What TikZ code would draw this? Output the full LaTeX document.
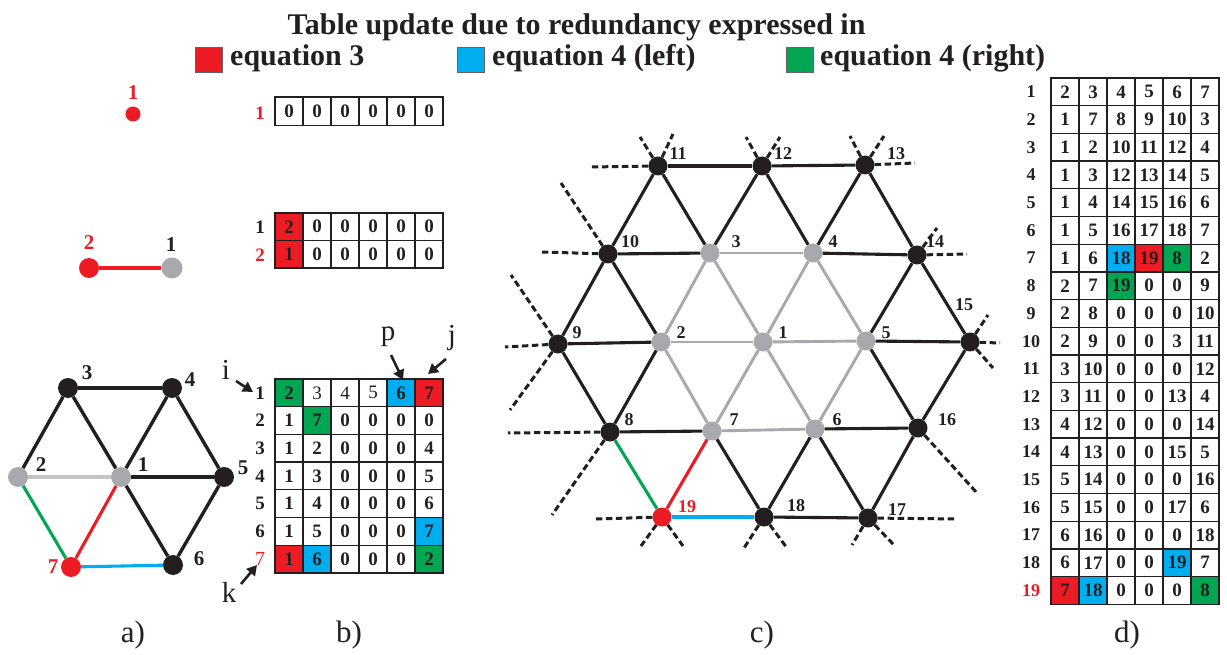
\documentclass[tikz,border=0pt]{standalone}
\usepackage{fontspec}
\setmainfont{Liberation Serif}
\usetikzlibrary{arrows.meta}
\definecolor{eqR}{HTML}{ED1C24}
\definecolor{eqB}{HTML}{00AEEF}
\definecolor{eqG}{HTML}{00A651}
\definecolor{ndG}{HTML}{A7A9AC}
\definecolor{edG}{HTML}{C3C4C6}
\definecolor{ink}{HTML}{231F20}
\colorlet{cW}{white}
\colorlet{cR}{eqR}
\colorlet{cB}{eqB}
\colorlet{cG}{eqG}
\newcommand{\celltable}[5]{%
  \foreach \row [count=\i] in {#5} {%
    \foreach \v/\c [count=\j] in \row {%
      \node[cell, fill=\c, minimum height=#4pt] (#1-\i-\j) at ({#2+28*(\j-0.5)},{#3+#4*(\i-0.5)}) {\v};
    }
  }
}
\begin{document}
\begin{tikzpicture}[x=1pt,y=-1pt,
  vtx/.style={circle, inner sep=0pt, minimum size=19pt, fill=ink},
  gvtx/.style={vtx, fill=ndG},
  rvtx/.style={vtx, fill=eqR},
  edge/.style={line width=3.1pt, draw=ink},
  gedge/.style={line width=2.9pt, draw=ndG},
  stub/.style={line width=3pt, draw=ink, dash pattern=on 6.5pt off 3.5pt},
  lbl/.style={font=\fontsize{18}{18}\selectfont\bfseries, text=ink, inner sep=0pt},
  albl/.style={font=\fontsize{21}{21}\selectfont\bfseries, text=ink, inner sep=0pt},
  rlbl/.style={font=\fontsize{19}{19}\selectfont\bfseries, text=ink, inner sep=0pt},
  dlbl/.style={font=\fontsize{18}{18}\selectfont\bfseries, text=ink, inner sep=0pt},
  cell/.style={draw=ink, line width=1.3pt, minimum width=28pt, inner sep=0pt,
    font=\fontsize{19}{19}\selectfont\bfseries, text=ink},
  legsq/.style={draw=ink!70, line width=0.6pt, minimum width=27pt, minimum height=25pt, inner sep=0pt},
  legtx/.style={font=\fontsize{30}{30}\selectfont\bfseries, text=ink, inner sep=0pt, anchor=base west},
  letter/.style={font=\fontsize{29}{29}\selectfont, text=ink, inner sep=0pt},
  captxt/.style={font=\fontsize{31}{31}\selectfont, text=ink, inner sep=0pt},
  arr/.style={line width=2.6pt, draw=ink, -{Triangle[length=10pt,width=11pt]}}
]
\useasboundingbox (0,0) rectangle (1227,655);

% ---------- legend ----------
\node[font=\fontsize{30}{30}\selectfont\bfseries, text=ink, inner sep=0pt, anchor=base] (title) at (576.5,35) {Table update due to redundancy expressed in};
\node[legsq, fill=eqR] (lr) at (209,59.5) {};
\node[legtx] (lrt) at (230,66) {equation 3};
\node[legsq, fill=eqB] (lb) at (471,59.5) {};
\node[legtx] (lbt) at (492,66) {equation 4 (left)};
\node[legsq, fill=eqG] (lg) at (800,59.5) {};
\node[legtx] (lgt) at (820,66) {equation 4 (right)};

% ---------- single node ----------
\node[rvtx, minimum size=15pt] (s1) at (133,114) {};
\node[albl, text=eqR] (s1l) at (133,93) {1};

% ---------- pair ----------
\node[rvtx, minimum size=20pt] (p2) at (89,268) {};
\node[gvtx, minimum size=21pt] (p1) at (172,268) {};
\draw[edge, draw=eqR] (p2) -- (p1);
\node[albl, text=eqR] (p2l) at (89,243) {2};
\node[albl] (p1l) at (171,245) {1};

% ---------- part a ----------
\foreach \n/\x/\y/\s in {3/68/388/vtx, 4/172/388/vtx, 2/18/477/gvtx, 1/121/477/gvtx, 5/224/477/vtx, 7/71/567/rvtx, 6/173/565/vtx}
  \node[\s, minimum size=20pt] (a\n) at (\x,\y) {};
\foreach \a/\b in {3/4,3/2,3/1,4/1,4/5,1/5,5/6,1/6}
  \draw[edge, line width=3.4pt] (a\a) -- (a\b);
\draw[edge, draw=edG] (a2) -- (a1);
\draw[edge, draw=eqG] (a2) -- (a7);
\draw[edge, draw=eqR] (a1) -- (a7);
\draw[edge, draw=eqB] (a7) -- (a6);
\foreach \n/\x/\y in {3/87/373, 4/190/380, 2/41/465, 1/143/465, 5/243/468, 6/199/559}
  \node[albl] (al\n) at (\x,\y) {\n};
\node[albl, text=eqR] (al7) at (53,567) {7};

% ---------- part b tables ----------
\celltable{t1}{275}{97}{28.5}{{0/cW,0/cW,0/cW,0/cW,0/cW,0/cW}}
\node[rlbl, text=eqR] (t1r1) at (260,113) {1};

\celltable{t2}{275}{213}{27.5}{{2/cR,0/cW,0/cW,0/cW,0/cW,0/cW},{1/cR,0/cW,0/cW,0/cW,0/cW,0/cW}}
\node[rlbl] (t2r1) at (260,227) {1};
\node[rlbl, text=eqR] (t2r2) at (260,255) {2};

\celltable{t3}{275}{379}{27.7}{%
 {2/cG,{\mdseries 3}/cW,{\mdseries 4}/cW,{\mdseries 5}/cW,6/cB,7/cR},
 {1/cW,7/cG,0/cW,0/cW,0/cW,0/cW},
 {1/cW,2/cW,0/cW,0/cW,0/cW,4/cW},
 {1/cW,3/cW,0/cW,0/cW,0/cW,5/cW},
 {1/cW,4/cW,0/cW,0/cW,0/cW,6/cW},
 {1/cW,5/cW,0/cW,0/cW,0/cW,7/cB},
 {1/cR,6/cB,0/cW,0/cW,0/cW,2/cG}}
\foreach \i in {1,...,6}
  \node[rlbl] (t3r\i) at (260,{379+27.7*(\i-0.5)}) {\i};
\node[rlbl, text=eqR, font=\fontsize{20}{20}\selectfont] (t3r7) at (260,{379+27.7*6.5}) {7};

% index letters and arrows
\node[letter] (li) at (226,370) {i};
\node[letter] (lp) at (388,337) {p};
\node[letter] (lj) at (452,338) {j};
\node[letter] (lk) at (229,592) {k};
\coordinate (ai0) at (236,381); \coordinate (ai1) at (253,392);
\coordinate (ap0) at (391,355); \coordinate (ap1) at (403,380);
\coordinate (aj0) at (446,359); \coordinate (aj1) at (428,374);
\coordinate (ak0) at (241,584); \coordinate (ak1) at (257,565);
\draw[arr] (ai0) -- (ai1);
\draw[arr] (ap0) -- (ap1);
\draw[arr] (aj0) -- (aj1);
\draw[arr] (ak0) -- (ak1);

% ---------- part c ----------
\foreach \n/\x/\y/\s in {11/658/166/vtx, 12/762/166/vtx, 13/865/165/vtx,
  10/608/254/vtx, 3/710/253/gvtx, 4/813/253/gvtx, 14/917/255/vtx,
  9/558/344/vtx, 2/661/342/gvtx, 1/763/342/gvtx, 5/866/341/gvtx, 15/970/342/vtx,
  8/610/432/vtx, 7/712/431/gvtx, 6/815/429/gvtx, 16/918/428/vtx,
  19/662/517/rvtx, 18/764/517/vtx, 17/868/518/vtx}
  \node[\s] (c\n) at (\x,\y) {};
\foreach \a/\b in {11/12,12/13,10/11,10/3,3/11,3/12,4/12,4/13,13/14,4/14,10/9,10/2,9/2,9/8,2/8,8/7,7/18,6/18,6/17,6/16,5/16,5/14,5/15,14/15,15/16,16/17,18/17}
  \draw[edge] (c\a) -- (c\b);
\foreach \a/\b in {1/2,1/3,1/4,1/5,1/6,1/7,2/3,3/4,4/5,5/6,6/7,7/2}
  \draw[gedge] (c\a) -- (c\b);
\draw[edge, draw=eqR] (c7) -- (c19);
\draw[edge, draw=eqG] (c8) -- (c19);
\draw[edge, draw=eqB] (c19) -- (c18);
\foreach \n/\d/\x/\y in {11/L/589/167, 11/UL/640/137, 11/UR/673/134,
  12/UL/746/137, 12/UR/780/137,
  13/UL/850/136, 13/UR/884/136, 13/R/915/163,
  10/L/542/252, 10/UL/561/183,
  14/R/967/254, 14/UR/937/228,
  9/L/505/347, 9/UL/511/275, 9/DL/510/410,
  15/UR/988/315, 15/R/1000/343, 15/DR/993/368,
  16/DR/977/493,
  8/L/508/433, 8/DL/552/515,
  19/L/596/519, 19/DL/641/546, 19/DR/683/546,
  18/DL/744/548, 18/DR/787/548,
  17/DL/852/545, 17/DR/894/545, 17/R/957/519}
{
  \coordinate (s\n\d) at (\x,\y);
  \draw[stub] (c\n) -- (s\n\d);
}
\foreach \n/\x/\y in {11/678/154, 12/783/154, 13/896/154, 10/630/242, 3/736/242, 4/833/242, 14/935/242,
  15/964/305, 9/577/333, 2/681/333, 1/783/333, 5/886/333, 8/629/420, 7/734/420, 6/837/420, 16/947/420,
  18/796/506, 17/897/510}
  \node[lbl] (cl\n) at (\x,\y) {\n};
\node[lbl, text=eqR] (cl19) at (687,507) {19};

% ---------- part d table ----------
\celltable{td}{1051}{78}{27.7}{%
 {2/cW,3/cW,4/cW,5/cW,6/cW,7/cW},
 {1/cW,7/cW,8/cW,9/cW,10/cW,3/cW},
 {1/cW,2/cW,10/cW,11/cW,12/cW,4/cW},
 {1/cW,3/cW,12/cW,13/cW,14/cW,5/cW},
 {1/cW,4/cW,14/cW,15/cW,16/cW,6/cW},
 {1/cW,5/cW,16/cW,17/cW,18/cW,7/cW},
 {1/cW,6/cW,18/cB,19/cR,8/cG,2/cW},
 {2/cW,7/cW,19/cG,0/cW,0/cW,9/cW},
 {2/cW,8/cW,0/cW,0/cW,0/cW,10/cW},
 {2/cW,9/cW,0/cW,0/cW,3/cW,11/cW},
 {3/cW,10/cW,0/cW,0/cW,0/cW,12/cW},
 {3/cW,11/cW,0/cW,0/cW,13/cW,4/cW},
 {4/cW,12/cW,0/cW,0/cW,0/cW,14/cW},
 {4/cW,13/cW,0/cW,0/cW,15/cW,5/cW},
 {5/cW,14/cW,0/cW,0/cW,0/cW,16/cW},
 {5/cW,15/cW,0/cW,0/cW,17/cW,6/cW},
 {6/cW,16/cW,0/cW,0/cW,0/cW,18/cW},
 {6/cW,17/cW,0/cW,0/cW,19/cB,7/cW},
 {7/cR,18/cB,0/cW,0/cW,0/cW,8/cG}}
\foreach \i in {1,...,18}
  \node[dlbl] (tdr\i) at (1031,{78+27.7*(\i-0.5)}) {\i};
\node[dlbl, text=eqR] (tdr19) at (1031,{78+27.7*18.5}) {19};

% ---------- captions ----------
\node[captxt] (capa) at (133,635) {a)};
\node[captxt] (capb) at (349,635) {b)};
\node[captxt] (capc) at (762,635) {c)};
\node[captxt] (capd) at (1127,635) {d)};
\end{tikzpicture}
\end{document}
